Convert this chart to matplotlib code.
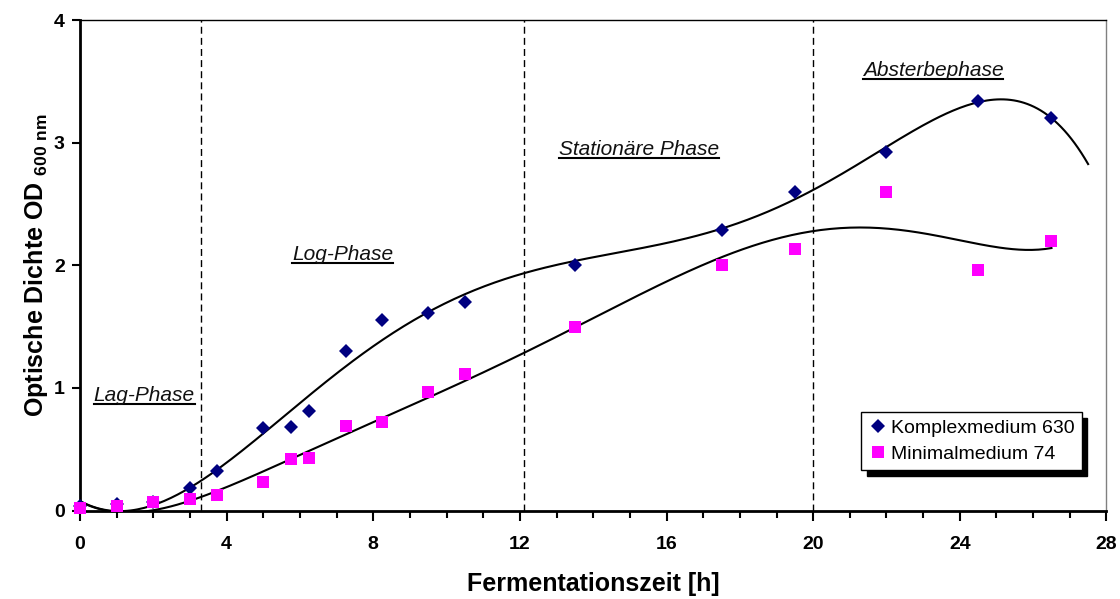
import numpy as np
import matplotlib
matplotlib.use("Agg")
import matplotlib.pyplot as plt
from matplotlib.lines import Line2D

plt.rcParams['font.family'] = ['Liberation Sans', 'DejaVu Sans']
plt.rcParams['mathtext.fontset'] = 'custom'
plt.rcParams['mathtext.rm'] = 'Liberation Sans:bold'
plt.rcParams['mathtext.bf'] = 'Liberation Sans:bold'
plt.rcParams['mathtext.default'] = 'bf'

# Messwerte
zeit = [0, 1, 2, 3, 3.75, 5, 5.75, 6.25, 7.25, 8.25, 9.5, 10.5, 13.5, 17.5, 19.5, 22, 24.5, 26.5]
komplex = [0.04, 0.05, 0.07, 0.18, 0.32, 0.67, 0.68, 0.815, 1.30, 1.55, 1.61, 1.70, 2.00, 2.29, 2.60, 2.92, 3.34, 3.20]
minimal = [0.02, 0.04, 0.07, 0.09, 0.13, 0.235, 0.42, 0.43, 0.69, 0.72, 0.965, 1.11, 1.495, 2.00, 2.13, 2.60, 1.96, 2.20]

phasen_grenzen = [3.3, 12.1, 20.0]
phasen = ['Lag-Phase', 'Log-Phase', 'Stationäre Phase', 'Absterbephase']
phasen_pos = [(1.75, 0.94), (7.16, 2.09), (15.25, 2.94), (23.27, 3.59)]

fig = plt.figure(figsize=(11.2, 5.99), dpi=100)
ax = fig.add_axes([0.0714, 0.1477, 0.9165, 0.8189])

# Trendlinien (Polynom 6. Ordnung, wie in Excel)
pk = np.polyfit(zeit, komplex, 6)
pm = np.polyfit(zeit, minimal, 6)
xk = np.linspace(0, 27.5, 300)
xm = np.linspace(0, 26.5, 300)
ax.plot(xk, np.polyval(pk, xk), color='black', lw=1.5, zorder=3)
ax.plot(xm, np.polyval(pm, xm), color='black', lw=1.5, zorder=3)

for g in phasen_grenzen:
    ax.axvline(g, color='black', lw=1.0, ls=(0, (5, 3)), zorder=2)

ax.plot(zeit, komplex, 'D', color='#000080', ms=7.5, mew=0, label='Komplexmedium 630',
        zorder=4, clip_on=False)
ax.plot(zeit, minimal, 's', color='#FF00FF', ms=9, mew=0, label='Minimalmedium 74',
        zorder=5, clip_on=False)

ax.set_xlim(0, 28)
ax.set_ylim(0, 4)
ax.set_xticks([0, 4, 8, 12, 16, 20, 24, 28])
ax.set_xticks(np.arange(0, 29, 1), minor=True)
ax.set_yticks([0, 1, 2, 3, 4])
ax.tick_params(axis='x', which='major', length=7, width=1.5, pad=11, labelsize=14)
ax.tick_params(axis='x', which='minor', length=5, width=1.5)
ax.tick_params(axis='y', which='major', length=6, width=1.5, pad=5, labelsize=14)
for lab in ax.get_xticklabels() + ax.get_yticklabels():
    lab.set_fontweight('bold')

ax.spines['left'].set_linewidth(2)
ax.spines['bottom'].set_linewidth(2)
ax.spines['top'].set_linewidth(1)
ax.spines['right'].set_linewidth(1)
ax.spines['right'].set_color('#808080')

ax.set_xlabel('Fermentationszeit [h]', fontsize=18, fontweight='bold', labelpad=14)
ax.set_ylabel(r'Optische Dichte OD $_{600\ nm}$', fontsize=18, fontweight='bold', labelpad=3)

texte = []
for name, (tx, ty) in zip(phasen, phasen_pos):
    t = ax.text(tx, ty, name, fontsize=15, fontstyle='italic', ha='center', va='center', color='#111111')
    texte.append(t)

leg = ax.legend(loc='lower right', bbox_to_anchor=(0.976, 0.0826), borderaxespad=0,
                fontsize=14, frameon=True, fancybox=False, edgecolor='black',
                handletextpad=0.2, handlelength=1.0, borderpad=0.35, labelspacing=0.45,
                shadow={'color': 'black', 'alpha': 1.0, 'ox': 4, 'oy': -4})
leg.get_frame().set_linewidth(1.0)

# Unterstreichung der Phasennamen
fig.canvas.draw()
r = fig.canvas.get_renderer()
inv = ax.transData.inverted()
for t in texte:
    bb = t.get_window_extent(r)
    (x0, y0) = inv.transform((bb.x0, bb.y0 + 1))
    (x1, _) = inv.transform((bb.x1, bb.y0 + 1))
    ax.add_line(Line2D([x0, x1], [y0, y0], color='black', lw=1.5))

fig.savefig('out.png', dpi=100)
